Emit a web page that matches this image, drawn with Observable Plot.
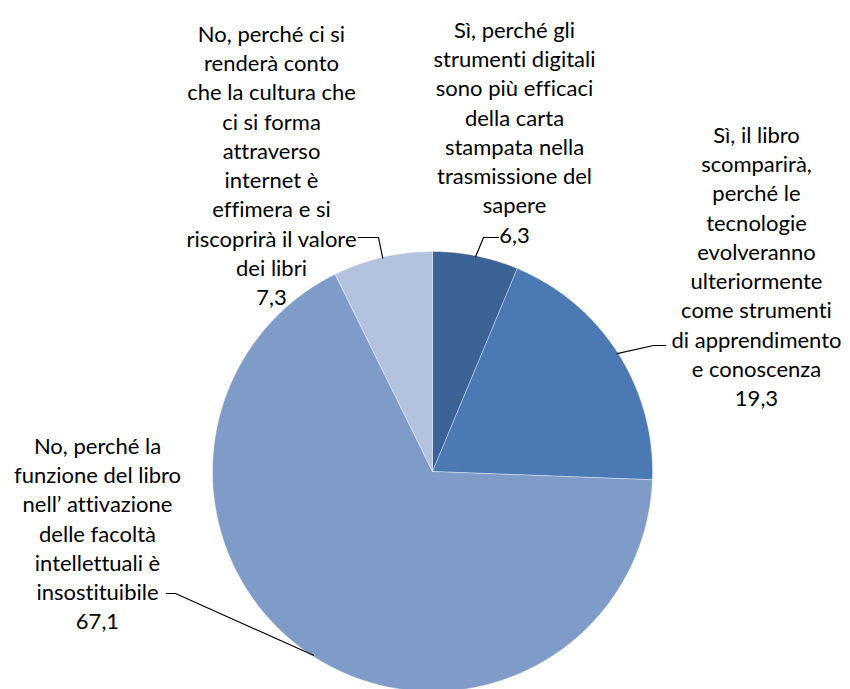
<!DOCTYPE html>
<html>
<head>
<meta charset="utf-8">
<script src="https://cdn.jsdelivr.net/npm/d3@7"></script>
<script src="https://cdn.jsdelivr.net/npm/@observablehq/plot@0.6"></script>
<style>
  html, body { margin: 0; padding: 0; background: #fff; }
  #chart svg { display: block; }
  #chart svg text { font-variant-ligatures: none; font-feature-settings: "liga" 0, "clig" 0; }
</style>
</head>
<body>
<div id="chart"></div>
<script>
// ---- data ----
const categories = [
  "Sì, perché gli\nstrumenti digitali\nsono più efficaci\ndella carta\nstampata nella\ntrasmissione del\nsapere",
  "Sì, il libro\nscomparirà,\nperché le\ntecnologie\nevolveranno\nulteriormente\ncome strumenti\ndi apprendimento\ne conoscenza",
  "No, perché la\nfunzione del libro\nnell’ attivazione\ndelle facoltà\nintellettuali è\ninsostituibile",
  "No, perché ci si\nrenderà conto\nche la cultura che\nci si forma\nattraverso\ninternet è\neffimera e si\nriscoprirà il valore\ndei libri"
];
const values = [6.3, 19.3, 67.1, 7.3];
const valueLabels = ["6,3", "19,3", "67,1", "7,3"];
const colors = ["#3c6395", "#4a79b3", "#7f9bc8", "#b3c2df"];

// ---- layout (pixels) ----
const cx = 432, cy = 471, R = 220;
const fontSize = 22;
const lineGap = 29.3;
// label block: center x, first-line baseline
const labelPos = [
  {x: 514, base: 32},
  {x: 756, base: 137},
  {x: 97,  base: 448},
  {x: 271, base: 36}
];
// leader line: text end and elbow
const leaderPts = [
  [[498, 237], [483, 237]],
  [[665, 345], [653, 345]],
  [[166, 593], [175, 593]],
  [[358, 237], [378, 237]]
];

// ---- geometry from data ----
const pie = d3.pie().sort(null).value(d => d)(values);
const polyRows = [];
pie.forEach((a, i) => {
  const n = Math.max(2, Math.ceil((a.endAngle - a.startAngle) / 0.01));
  polyRows.push({k: i, x: cx, y: cy});
  for (let j = 0; j <= n; j++) {
    const t = a.startAngle + (a.endAngle - a.startAngle) * j / n;
    polyRows.push({k: i, x: cx + R * Math.sin(t), y: cy - R * Math.cos(t)});
  }
  polyRows.push({k: i, x: cx, y: cy});
});

const leaderRows = [];
pie.forEach((a, i) => {
  const m = (a.startAngle + a.endAngle) / 2;
  leaderPts[i].forEach(p => leaderRows.push({k: i, x: p[0], y: p[1]}));
  leaderRows.push({k: i, x: cx + (R - 1) * Math.sin(m), y: cy - (R - 1) * Math.cos(m)});
});

const textRows = categories.map((c, i) => ({
  k: i,
  text: c + "\n" + valueLabels[i],
  x: labelPos[i].x,
  y: labelPos[i].base - 0.71 * fontSize
}));

const chart = Plot.plot({
  width: 850,
  height: 689,
  margin: 0,
  x: {domain: [0, 850], range: [0, 850], axis: null},
  y: {domain: [0, 689], range: [0, 689], axis: null},
  style: {fontFamily: "Lato, 'Open Sans', sans-serif", background: "#fff"},
  marks: [
    Plot.line(polyRows, {
      x: "x", y: "y", z: "k",
      fill: d => colors[d.k],
      stroke: "#ffffff", strokeWidth: 0.7, strokeOpacity: 0.5,
      curve: "linear"
    }),
    Plot.line(leaderRows, {
      x: "x", y: "y", z: "k",
      stroke: "#000", strokeWidth: 1.2
    }),
    Plot.text(textRows, {
      x: "x", y: "y", text: "text",
      textAnchor: "middle", lineAnchor: "top",
      lineHeight: lineGap / fontSize,
      fontSize: fontSize, fill: "#000"
    })
  ]
});
document.getElementById("chart").appendChild(chart);
</script>
</body>
</html>
